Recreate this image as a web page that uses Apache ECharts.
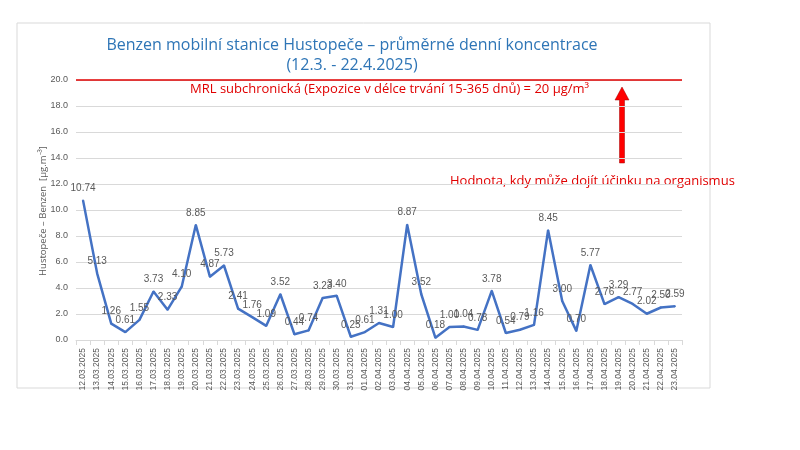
<!DOCTYPE html>
<html><head><meta charset="utf-8">
<script src="https://cdn.jsdelivr.net/npm/echarts@6/dist/echarts.min.js"></script>
<style>html,body{margin:0;padding:0;background:#fff}#c{width:800px;height:450px}</style>
</head><body><div id="c"></div>
<script>
const categories = ["12.03.2025","13.03.2025","14.03.2025","15.03.2025","16.03.2025","17.03.2025","18.03.2025","19.03.2025","20.03.2025","21.03.2025","22.03.2025","23.03.2025","24.03.2025","25.03.2025","26.03.2025","27.03.2025","28.03.2025","29.03.2025","30.03.2025","31.03.2025","01.04.2025","02.04.2025","03.04.2025","04.04.2025","05.04.2025","06.04.2025","07.04.2025","08.04.2025","09.04.2025","10.04.2025","11.04.2025","12.04.2025","13.04.2025","14.04.2025","15.04.2025","16.04.2025","17.04.2025","18.04.2025","19.04.2025","20.04.2025","21.04.2025","22.04.2025","23.04.2025"];
const benzen = [10.74,5.13,1.26,0.61,1.55,3.73,2.33,4.10,8.85,4.87,5.73,2.41,1.76,1.09,3.52,0.44,0.74,3.23,3.40,0.25,0.61,1.31,1.00,8.87,3.52,0.18,1.00,1.04,0.78,3.78,0.54,0.79,1.16,8.45,3.00,0.70,5.77,2.76,3.29,2.77,2.02,2.50,2.59];
const mrlValue = 20;

const chart = echarts.init(document.getElementById('c'));
chart.setOption({
  animation: false,
  backgroundColor: '#fff',
  title: {
    text: 'Benzen mobilní stanice Hustopeče – průměrné denní koncentrace\n(12.3. - 22.4.2025)',
    left: 347, top: 30, textAlign: 'center',
    textStyle: {color: '#2e75b6', fontSize: 16, fontWeight: 'normal', fontFamily: 'Open Sans', lineHeight: 20}
  },
  grid: {left: 76, right: 118, top: 80, bottom: 110},
  xAxis: {
    type: 'category', data: categories, boundaryGap: true,
    axisLine: {lineStyle: {color: '#d9d9d9'}},
    axisTick: {show: true, lineStyle: {color: '#d9d9d9'}},
    axisLabel: {rotate: 90, color: '#595959', fontSize: 8.5, interval: 0, fontFamily: 'Liberation Sans'}
  },
  yAxis: {
    type: 'value', min: 0, max: 20, interval: 2,
    axisLine: {show: false}, axisTick: {show: false},
    axisLabel: {color: '#595959', fontSize: 9, formatter: v => v.toFixed(1), margin: 8},
    splitLine: {lineStyle: {color: '#d9d9d9'}}
  },
  series: [{
    type: 'line', data: benzen, symbol: 'circle', symbolSize: 2, showSymbol: true,
    itemStyle: {color: '#4472c4'},
    lineStyle: {color: '#4472c4', width: 2.5},
    label: {show: true, position: 'top', color: '#595959', fontSize: 10, formatter: p => Number(p.value).toFixed(2), distance: 6},
    labelLayout: {hideOverlap: false},
    markLine: {
      silent: true, symbol: 'none',
      data: [{yAxis: mrlValue}],
      lineStyle: {color: '#e00000', width: 1.5, type: 'solid'},
      label: {show: false}
    }
  }],
  graphic: [
    {type: 'rect', shape: {x: 17, y: 23, width: 693, height: 365}, style: {fill: 'none', stroke: '#d9d9d9', lineWidth: 1}, z: -1},
    {type: 'text', x: 43, y: 211, rotation: Math.PI / 2, style: {text: 'Hustopeče – Benzen  [µg.m⁻³]', fill: '#595959', fontSize: 9.5, fontFamily: 'Open Sans', align: 'center', verticalAlign: 'middle'}},
    {type: 'text', left: 190, top: 83, style: {text: 'MRL subchronická (Expozice v délce trvání 15-365 dnů) = 20 µg/m³', fill: '#e00000', fontSize: 13, fontFamily: 'Open Sans'}},
    {type: 'polygon', shape: {points: [[619.5,163],[624.5,163],[624.5,100],[629,100],[622,87],[615,100],[619.5,100]]}, style: {fill: '#ff0000', stroke: '#a00000', lineWidth: 0.5}},
    {type: 'text', left: 450, top: 175, style: {text: 'Hodnota, kdy může dojít účinku na organismus', fill: '#e00000', fontSize: 13, fontFamily: 'Open Sans'}}
  ]
});
</script></body></html>
